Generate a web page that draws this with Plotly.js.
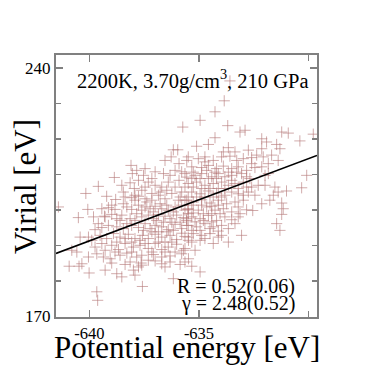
<!DOCTYPE html>
<html>
<head>
<meta charset="utf-8">
<script src="https://cdn.plot.ly/plotly-3.0.1.min.js"></script>
<style>
  html, body { margin: 0; padding: 0; background: #fff; }
  #chart { width: 374px; height: 374px; }
</style>
</head>
<body>
<div id="chart"></div>
<script>
// potential energy / virial samples [eV, eV]
let samples = [
  [-635.74, 223.3], [-636.17, 216.9], [-635.97, 216.9],
  [-636.55, 213.9], [-636.27, 214.9], [-635.91, 213.0], [-635.56, 213.9], [-638.10, 212.5],
  [-637.53, 209.7], [-637.76, 208.3], [-638.04, 210.2], [-637.15, 208.8], [-638.86, 209.1],
  [-636.32, 209.7], [-635.79, 210.7], [-635.56, 209.2], [-636.09, 211.1],
  [-639.59, 206.6], [-638.52, 206.9], [-637.95, 206.0], [-637.31, 207.8], [-637.00, 206.9],
  [-636.70, 206.4], [-636.40, 207.8], [-635.91, 208.3], [-635.64, 206.4], [-637.61, 205.5],
  [-638.45, 205.0], [-638.14, 207.6],
  [-640.16, 204.6], [-639.21, 203.8], [-638.80, 202.9], [-638.37, 203.6], [-638.07, 203.4],
  [-637.76, 203.8], [-637.46, 203.1], [-637.15, 204.6], [-636.85, 204.1], [-636.55, 203.1],
  [-636.24, 204.6], [-635.86, 203.6], [-635.56, 202.7], [-637.15, 202.7],
  [-641.41, 200.8], [-640.07, 200.1], [-639.43, 200.3], [-639.13, 200.6], [-638.83, 200.1],
  [-638.29, 200.8], [-638.07, 200.1], [-637.76, 201.3], [-637.46, 200.8], [-637.23, 200.3],
  [-637.00, 201.0], [-636.70, 200.3], [-636.40, 199.9], [-636.09, 200.8], [-635.79, 201.3],
  [-635.51, 200.1],
  [-640.50, 197.8], [-639.81, 198.0], [-639.31, 198.2], [-638.98, 198.7], [-638.52, 198.5],
  [-638.14, 197.5], [-637.84, 198.9], [-637.61, 198.0], [-637.31, 198.5], [-637.08, 197.5],
  [-636.85, 198.7], [-636.55, 198.2], [-636.32, 197.5], [-636.02, 198.5], [-635.71, 197.8],
  [-635.48, 198.9],
  [-639.74, 194.4], [-639.43, 195.0], [-639.13, 195.6], [-638.75, 195.2], [-638.45, 194.7],
  [-638.07, 195.6], [-637.76, 195.0], [-637.46, 196.1], [-637.23, 194.7], [-637.00, 195.6],
  [-636.70, 195.2], [-636.40, 194.4], [-636.09, 195.9], [-635.79, 194.7], [-635.56, 195.6],
  [-640.42, 192.3], [-640.04, 192.3], [-639.51, 192.8], [-639.21, 191.9], [-638.90, 193.3],
  [-638.60, 192.3], [-638.22, 193.1], [-637.92, 191.9], [-637.58, 192.8], [-637.31, 191.9],
  [-637.00, 193.1], [-636.70, 192.3], [-636.32, 192.8], [-636.02, 191.6], [-635.64, 192.5],
  [-640.80, 188.6], [-640.57, 188.1], [-639.74, 189.5], [-639.43, 190.5], [-638.98, 190.0],
  [-638.67, 188.8], [-638.37, 190.5], [-637.99, 189.5], [-637.69, 190.0], [-637.31, 189.1],
  [-637.00, 190.5], [-636.70, 188.8], [-636.40, 189.5], [-636.02, 190.3], [-635.71, 188.6],
  [-639.66, 187.6], [-639.36, 186.7], [-639.05, 186.2], [-638.60, 187.2], [-638.29, 187.8],
  [-637.84, 186.7], [-637.61, 187.2], [-637.08, 187.4], [-636.70, 186.7], [-636.32, 187.0],
  [-635.79, 187.6], [-635.48, 186.2],
  [-640.92, 184.1], [-640.47, 184.1], [-640.34, 184.8], [-640.01, 182.2], [-639.28, 183.0],
  [-638.98, 185.0], [-638.75, 182.0], [-638.37, 184.6], [-637.99, 183.0], [-637.64, 185.0],
  [-637.61, 184.4], [-637.00, 185.6], [-636.55, 183.9], [-635.86, 184.6], [-635.33, 184.1],
  [-638.52, 181.1], [-637.92, 181.6], [-637.58, 178.4], [-636.17, 180.6], [-639.66, 176.9],
  [-639.62, 174.5],
  [-633.59, 236.3], [-633.85, 230.7], [-634.27, 227.6], [-634.95, 225.2], [-633.69, 223.7],
  [-633.13, 221.9], [-632.90, 222.4], [-631.23, 221.9], [-630.93, 221.6], [-629.79, 221.3],
  [-630.40, 219.4], [-634.27, 220.3], [-632.14, 220.0], [-631.92, 219.1], [-631.46, 218.4],
  [-631.31, 217.2], [-632.14, 217.2], [-635.11, 217.9], [-634.57, 218.4], [-633.66, 217.5],
  [-633.89, 216.3],
  [-635.49, 214.9], [-635.03, 214.4], [-634.73, 213.5], [-634.35, 213.9], [-633.97, 214.9],
  [-633.59, 215.1], [-633.28, 213.9], [-632.98, 214.4], [-632.60, 214.7], [-632.37, 215.4],
  [-632.07, 214.9], [-631.84, 213.0], [-631.39, 213.9],
  [-635.33, 212.1], [-634.88, 211.9], [-634.57, 212.5], [-634.20, 211.6], [-633.89, 212.3],
  [-633.51, 211.6], [-633.21, 212.1], [-632.83, 211.1], [-632.45, 211.9], [-632.14, 212.1],
  [-635.64, 210.2], [-635.18, 209.7], [-634.88, 210.2], [-634.42, 209.3], [-634.12, 210.2],
  [-633.82, 209.3], [-633.51, 209.7], [-633.06, 210.2], [-632.68, 208.8], [-631.99, 209.7],
  [-630.09, 209.7],
  [-635.49, 207.4], [-635.11, 207.8], [-634.73, 206.9], [-634.35, 207.4], [-633.97, 207.8],
  [-633.66, 206.9], [-633.36, 207.4], [-632.98, 207.8], [-632.60, 206.4], [-632.30, 206.9],
  [-631.54, 206.4], [-630.32, 206.2],
  [-635.33, 205.0], [-634.95, 204.5], [-634.57, 205.3], [-634.20, 204.7], [-633.82, 204.1],
  [-633.51, 205.0], [-633.21, 204.5], [-632.75, 205.0], [-632.45, 204.1], [-631.61, 204.1],
  [-631.39, 205.0], [-631.01, 205.3],
  [-635.64, 202.7], [-635.26, 202.2], [-634.88, 202.8], [-634.50, 201.9], [-634.12, 202.7],
  [-633.74, 201.7], [-633.36, 202.2], [-632.98, 202.7], [-632.14, 201.7], [-631.23, 201.9],
  [-635.49, 200.3], [-635.03, 199.9], [-634.65, 200.8], [-634.27, 199.9], [-633.89, 200.3],
  [-633.51, 199.4], [-633.13, 198.9], [-632.83, 200.0], [-631.16, 200.3], [-631.23, 198.7],
  [-632.55, 199.8],
  [-635.33, 198.0], [-634.95, 197.5], [-634.57, 198.4], [-634.20, 197.0], [-633.82, 198.0],
  [-633.51, 197.2], [-633.21, 198.0], [-631.46, 196.1], [-631.31, 194.2],
  [-635.49, 195.6], [-635.11, 195.2], [-634.73, 196.1], [-634.35, 195.2], [-633.97, 195.6],
  [-633.66, 194.7],
  [-635.26, 193.3], [-634.88, 192.8], [-634.50, 193.3], [-634.12, 192.3], [-633.06, 192.8],
  [-635.33, 190.9], [-634.95, 191.4], [-634.35, 190.5], [-633.66, 190.9],
  [-635.64, 189.1], [-635.18, 188.6], [-634.95, 182.5]
];

// extra samples filling the dense middle of the cloud
let coreSamples = [
  [-637.92, 202.7], [-637.61, 199.9], [-637.38, 202.2], [-637.08, 199.4], [-636.77, 201.7],
  [-636.47, 201.3], [-636.17, 199.4], [-635.94, 202.7], [-635.64, 199.9], [-636.93, 197.0],
  [-636.62, 196.5], [-636.24, 196.5], [-635.86, 196.5], [-635.56, 197.5], [-637.92, 197.0],
  [-638.29, 196.1], [-638.60, 197.0], [-637.53, 194.2], [-637.15, 193.8], [-636.85, 193.8],
  [-636.47, 193.8], [-636.17, 194.2], [-635.79, 193.4], [-635.48, 191.4], [-637.69, 191.4],
  [-638.07, 190.9], [-638.37, 191.9], [-638.75, 190.9], [-636.55, 190.9], [-636.24, 190.9],
  [-636.85, 190.9], [-637.46, 190.5], [-637.15, 188.1], [-636.55, 188.1], [-636.09, 188.1],
  [-638.07, 188.1], [-638.83, 188.1], [-636.70, 184.8], [-637.31, 185.8], [-637.76, 183.9],
  [-638.14, 185.3], [-636.32, 185.3], [-635.64, 185.3], [-636.77, 205.0], [-636.47, 205.5],
  [-636.09, 206.4], [-635.79, 205.0], [-637.46, 206.4], [-637.92, 204.1], [-638.45, 201.7],
  [-638.98, 201.3], [-639.28, 198.0], [-638.75, 197.5], [-639.59, 196.1], [-639.89, 191.4],
  [-639.28, 188.6], [-640.04, 186.7], [-637.46, 211.6], [-637.00, 210.7], [-636.62, 210.2],
  [-637.84, 211.1],
  [-635.26, 210.6], [-634.65, 211.1], [-634.27, 210.6], [-633.66, 210.6], [-633.28, 210.6],
  [-635.33, 208.8], [-634.95, 208.8], [-634.57, 208.8], [-634.20, 208.8], [-633.51, 208.3],
  [-632.83, 209.3], [-635.26, 206.4], [-634.88, 206.0], [-634.50, 206.0], [-634.12, 206.0],
  [-633.82, 206.0], [-633.21, 206.0], [-632.83, 206.4], [-635.49, 203.6], [-635.11, 203.6],
  [-634.73, 203.6], [-634.35, 203.6], [-633.97, 203.6], [-632.98, 204.1], [-635.33, 201.3],
  [-634.88, 201.3], [-634.42, 201.0], [-634.12, 201.3], [-633.21, 200.8], [-635.26, 199.1],
  [-634.80, 198.9], [-634.42, 198.9], [-634.04, 198.9], [-635.56, 197.0], [-635.18, 196.6],
  [-634.80, 197.0], [-634.42, 196.6], [-633.36, 196.1], [-635.33, 194.2], [-634.95, 194.2],
  [-634.50, 194.7], [-634.12, 194.0], [-635.49, 192.3], [-634.73, 191.9], [-633.97, 192.8],
  [-634.73, 214.9], [-633.36, 216.3], [-632.60, 213.0], [-632.75, 216.8], [-631.69, 215.4],
  [-631.99, 206.9], [-631.77, 202.7], [-631.84, 210.2]
];

// linear fit drawn across the frame
let fitEnergy = [-641.52, -629.62];
let fitVirial = [187.7, 215.3];

// labelled ticks
let energyTicks = [-640, -635];
let energyLabels = ['-640', '-635'];
let virialTicks = [170, 240];
let virialLabels = ['170', '240'];

let allSamples = samples.concat(coreSamples);
let energy = allSamples.map(function(p){ return p[0]; });
let virial = allSamples.map(function(p){ return p[1]; });

let serif = "'Liberation Serif', 'Times New Roman', Times, serif";
let frame = '#808080';
let crossColor = 'rgba(180,120,120,0.62)';

let traces = [
  {
    x: energy,
    y: virial,
    mode: 'markers',
    type: 'scatter',
    marker: {
      symbol: 'cross-thin-open',
      size: 8,
      color: crossColor,
      line: { width: 1, color: crossColor }
    },
    hoverinfo: 'skip'
  },
  {
    x: fitEnergy,
    y: fitVirial,
    mode: 'lines',
    type: 'scatter',
    line: { color: '#000000', width: 1.6 },
    hoverinfo: 'skip'
  }
];

let layout = {
  width: 374,
  height: 374,
  margin: { l: 56, r: 57, t: 55, b: 57 },
  showlegend: false,
  plot_bgcolor: '#ffffff',
  paper_bgcolor: '#ffffff',
  font: { family: serif, color: '#000000', size: 17 },
  xaxis: {
    range: [-641.52, -629.62],
    tickmode: 'array',
    tickvals: energyTicks,
    ticktext: energyLabels,
    ticks: 'inside',
    ticklen: 7,
    tickcolor: frame,
    tickwidth: 1.5,
    minor: { tick0: -640, dtick: 5, ticks: 'inside', ticklen: 6, tickcolor: frame, tickwidth: 1.5, showgrid: false },
    showline: true,
    linecolor: frame,
    linewidth: 2,
    mirror: 'ticks',
    showgrid: false,
    zeroline: false,
    tickfont: { family: serif, size: 16.5, color: '#000000' }
  },
  yaxis: {
    range: [169.8, 243.6],
    tickmode: 'array',
    tickvals: virialTicks,
    ticktext: virialLabels,
    ticks: 'inside',
    ticklen: 7,
    tickcolor: frame,
    tickwidth: 1.5,
    minor: { tick0: 170, dtick: 10, ticks: 'inside', ticklen: 5, tickcolor: frame, tickwidth: 1.5, showgrid: false },
    showline: true,
    linecolor: frame,
    linewidth: 2,
    mirror: 'ticks',
    showgrid: false,
    zeroline: false,
    tickfont: { family: serif, size: 17, color: '#000000' }
  },
  annotations: [
    {
      text: 'Potential energy [eV]',
      xref: 'paper', yref: 'paper',
      x: 0.5, y: -0.117,
      xanchor: 'center', yanchor: 'middle',
      showarrow: false,
      font: { family: serif, size: 31 }
    },
    {
      text: 'Virial [eV]',
      xref: 'paper', yref: 'paper',
      x: -0.119, y: 0.5,
      xanchor: 'center', yanchor: 'middle',
      textangle: -90,
      showarrow: false,
      font: { family: serif, size: 31 }
    },
    {
      text: '2200K, 3.70g/cm<sup>3</sup>, 210 GPa',
      xref: 'paper', yref: 'paper',
      x: 0.523, y: 0.905,
      xanchor: 'center', yanchor: 'middle',
      showarrow: false,
      font: { family: serif, size: 20.5 }
    },
    {
      text: 'R = 0.52(0.06)',
      xref: 'paper', yref: 'paper',
      x: 0.923, y: 0.118,
      xanchor: 'right', yanchor: 'middle',
      showarrow: false,
      font: { family: serif, size: 20 }
    },
    {
      text: 'γ = 2.48(0.52)',
      xref: 'paper', yref: 'paper',
      x: 0.923, y: 0.05,
      xanchor: 'right', yanchor: 'middle',
      showarrow: false,
      font: { family: serif, size: 20 }
    }
  ]
};

Plotly.newPlot('chart', traces, layout, { displayModeBar: false, staticPlot: true });
</script>
</body>
</html>
